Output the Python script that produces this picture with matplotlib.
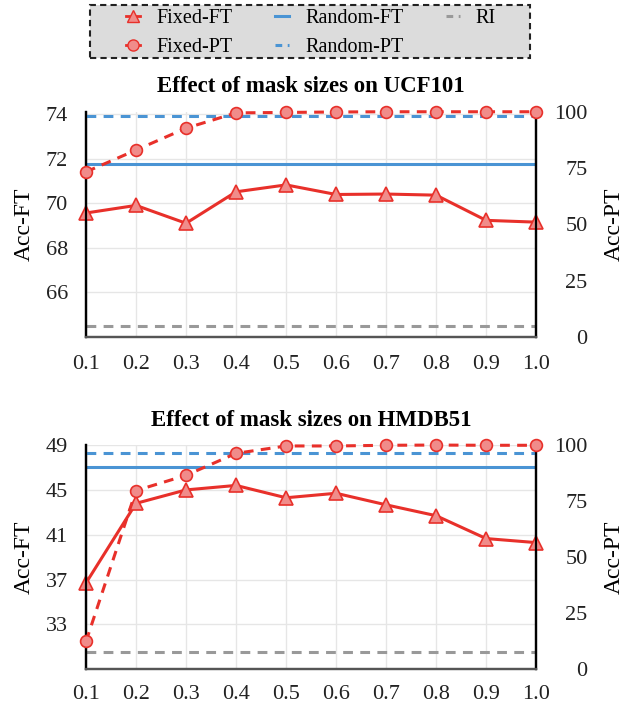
import matplotlib
matplotlib.use("Agg")
import matplotlib.pyplot as plt
import numpy as np
from matplotlib import rcParams
from matplotlib.lines import Line2D
from matplotlib.patches import Rectangle

rcParams.update({
    'font.family': ['Liberation Serif', 'DejaVu Serif'],
    'font.size': 15,
})

# mask sizes
mask_sizes = [0.1, 0.2, 0.3, 0.4, 0.5, 0.6, 0.7, 0.8, 0.9, 1.0]

# UCF101
ucf_fixed_ft = [69.56, 69.9, 69.1, 70.51, 70.82, 70.39, 70.41, 70.36, 69.23, 69.15]
ucf_fixed_pt = [73.3, 83.0, 92.7, 99.5, 99.7, 99.9, 100.0, 100.0, 100.0, 100.0]
ucf_random_ft = 71.75
ucf_random_pt = 98.3
ucf_ri = 64.5

# HMDB51
hmdb_fixed_ft = [36.7, 43.8, 45.0, 45.4, 44.3, 44.7, 43.67, 42.7, 40.66, 40.3]
hmdb_fixed_pt = [12.4, 79.7, 86.5, 96.3, 99.6, 99.6, 99.9, 100.0, 99.9, 99.9]
hmdb_random_ft = 47.0
hmdb_random_pt = 96.3
hmdb_ri = 30.5

panels = [
    ("Effect of mask sizes on UCF101", ucf_fixed_ft, ucf_fixed_pt, ucf_random_ft, ucf_random_pt, ucf_ri,
     (64, 74.1), [66, 68, 70, 72, 74], 13),
    ("Effect of mask sizes on HMDB51", hmdb_fixed_ft, hmdb_fixed_pt, hmdb_random_ft, hmdb_random_pt, hmdb_ri,
     (29, 49), [33, 37, 41, 45, 49], 11),
]

red = "#E8302A"
red_face = "#F08C8A"
blue = "#4A94D4"
gray = "#999999"
dash = (0, (3.2, 2.4))

fig = plt.figure(figsize=(6.26, 7.06), dpi=100)
positions = [[0.1374, 0.5227, 0.719, 0.319], [0.1374, 0.052, 0.719, 0.3176]]

x = np.array(mask_sizes)
for pos, (title, fft, fpt, rft, rpt, ri, ylim, yticks, xpad) in zip(positions, panels):
    ax = fig.add_axes(pos)
    ax2 = ax.twinx()

    ax.set_xlim(0.1, 1.0)
    ax.set_ylim(*ylim)
    ax.set_yticks(yticks)
    ax2.set_ylim(0, 100)
    ax2.set_yticks([0, 25, 50, 75, 100])
    ax.set_xticks(x)
    ax.set_xticklabels([f"{v:.1f}" for v in mask_sizes])

    ax.grid(True, color="#E6E6E6", linewidth=1.0)
    ax.set_axisbelow(True)

    ax.axhline(ri, color=gray, linestyle=dash, linewidth=2.2)
    ax.axhline(rft, color=blue, linestyle='-', linewidth=2.2)
    ax2.axhline(rpt, color=blue, linestyle=dash, linewidth=2.2)

    ax2.plot(x, fpt, color=red, linestyle=dash, linewidth=2.2, marker='o', markersize=8.5,
             markerfacecolor=red_face, markeredgecolor=red, markeredgewidth=1.2, clip_on=False, zorder=3)
    ax.plot(x, fft, color=red, linestyle='-', linewidth=2.2, marker='^', markersize=9.5,
            markerfacecolor=red_face, markeredgecolor=red, markeredgewidth=1.2, clip_on=False, zorder=3)

    for a in (ax, ax2):
        a.spines['top'].set_visible(False)
        a.spines['left'].set_color('black')
        a.spines['right'].set_color('black')
        a.spines['left'].set_linewidth(1.6)
        a.spines['right'].set_linewidth(1.6)
        a.spines['bottom'].set_color('#555555')
        a.spines['bottom'].set_linewidth(1.6)
        a.tick_params(length=0, labelsize=16, colors='#222222', pad=13)
    ax.tick_params(axis='x', pad=xpad)
    ax2.tick_params(axis='y', pad=37)
    for lab in ax2.get_yticklabels():
        lab.set_horizontalalignment('right')

    ax.set_ylabel("Acc-FT", fontsize=17, labelpad=8)
    ax2.set_ylabel("Acc-PT", fontsize=17, labelpad=12)
    ax.set_title(title, fontsize=16.5, fontweight='bold', pad=14)

handles = [
    Line2D([], [], color=red, marker='^', markersize=8, markerfacecolor=red_face, linestyle='-', linewidth=2),
    Line2D([], [], color=red, marker='o', markersize=8, markerfacecolor=red_face, linestyle='-', linewidth=2),
    Line2D([], [], color=blue, linestyle='-', linewidth=2.2),
    Line2D([], [], color=blue, linestyle=(0, (2.2, 1.8)), linewidth=2.2),
    Line2D([], [], color=gray, linestyle=(0, (2.2, 1.8)), linewidth=2.2),
]
labels = ["Fixed-FT", "Fixed-PT", "Random-FT", "Random-PT", "RI"]

# legend box drawn as its own patch (wider padding than the legend frame gives)
box = Rectangle((90 / 626, 1 - 58 / 706), 440 / 626, 53 / 706, transform=fig.transFigure,
                facecolor='#DCDCDC', edgecolor='#222222', linestyle=(0, (3, 2)), linewidth=1.5, zorder=0)
fig.patches.append(box)

leg = fig.legend(handles, labels, loc='center', bbox_to_anchor=(0.497, 1 - 33 / 706), ncol=3,
                 fontsize=14.5, frameon=False, handlelength=0.7, columnspacing=2.1,
                 handletextpad=0.8, borderpad=0.0, labelspacing=0.45, borderaxespad=0)

plt.savefig("out.png", dpi=100)
